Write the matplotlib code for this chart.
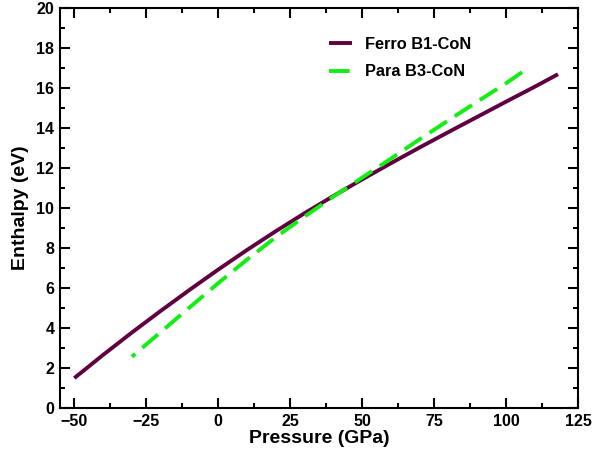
import matplotlib
matplotlib.use("Agg")
import matplotlib.pyplot as plt
from matplotlib.ticker import MultipleLocator

plt.rcParams['font.family'] = ['Liberation Sans', 'DejaVu Sans']
plt.rcParams['font.weight'] = 'bold'

ferro_p = [-50, -40, -30, -20, -10, 0, 10, 20, 30, 40, 50, 60, 70, 80, 90, 100, 110, 118]
ferro_h = [1.5, 2.66, 3.78, 4.86, 5.91, 6.93, 7.91, 8.85, 9.75, 10.61, 11.44, 12.25, 13.04, 13.81, 14.57, 15.33, 16.08, 16.7]

para_p = [-30, -20, -10, 0, 10, 20, 30, 40, 50, 60, 70, 80, 90, 100, 105.5]
para_h = [2.57, 3.8, 5.03, 6.25, 7.43, 8.55, 9.58, 10.58, 11.53, 12.48, 13.45, 14.4, 15.33, 16.25, 16.8]

labels = ["Ferro B1-CoN", "Para B3-CoN"]

fig = plt.figure(figsize=(5.93, 4.57), dpi=100)
ax = fig.add_axes([0.101, 0.107, 0.874, 0.875])

ax.plot(ferro_p, ferro_h, color='#600040', lw=2.8, label=labels[0],
        solid_joinstyle='round', solid_capstyle='butt')
ax.plot(para_p[::-1], para_h[::-1], color='#11ee11', lw=2.8, dashes=(5.3, 2.4), label=labels[1])

ax.set_xlim(-55, 125)
ax.set_ylim(0, 20)
ax.xaxis.set_major_locator(MultipleLocator(25))
ax.xaxis.set_minor_locator(MultipleLocator(12.5))
ax.yaxis.set_major_locator(MultipleLocator(2))
ax.yaxis.set_minor_locator(MultipleLocator(1))
ax.tick_params(which='both', direction='in', top=True, right=True, width=1.5, labelsize=11.5, pad=4)
ax.tick_params(which='major', length=7)
ax.tick_params(which='minor', length=3.5)
for lab in ax.get_xticklabels() + ax.get_yticklabels():
    lab.set_fontweight('bold')
for s in ax.spines.values():
    s.set_linewidth(1.5)

ax.set_xlabel("Pressure (GPa)", fontsize=14, fontweight='bold', labelpad=1)
ax.set_ylabel("Enthalpy (eV)", fontsize=14, fontweight='bold', labelpad=5)

leg = ax.legend(loc='upper left', bbox_to_anchor=(0.49, 0.965), frameon=False,
                fontsize=11.8, handlelength=1.45, handletextpad=0.75, labelspacing=0.75)
for t in leg.get_texts():
    t.set_fontweight('bold')

fig.savefig('out.png', dpi=100)
